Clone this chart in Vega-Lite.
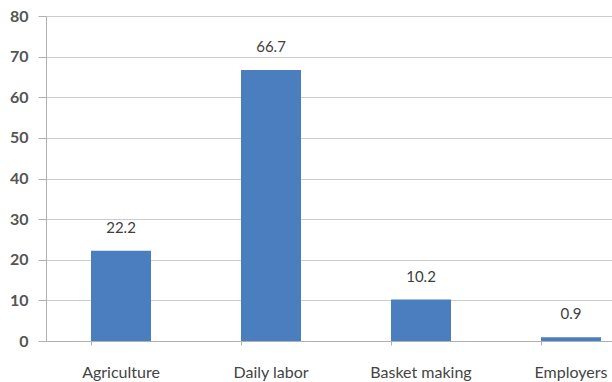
{
  "$schema": "https://vega.github.io/schema/vega-lite/v6.json",
  "width": 566,
  "height": 325,
  "autosize": "none",
  "padding": {"left": 46, "top": 16, "right": 0, "bottom": 41},
  "background": "white",
  "data": {"values": [
    {"category": "Agriculture", "value": 22.2},
    {"category": "Daily labor", "value": 66.7},
    {"category": "Basket making", "value": 10.2},
    {"category": "Employers", "value": 0.9}
  ]},
  "config": {
    "view": {"stroke": null},
    "font": "Lato"
  },
  "encoding": {
    "x": {
      "field": "category", "type": "nominal", "sort": null,
      "scale": {"range": [0, 600], "paddingInner": 0.6, "paddingOuter": 0.3},
      "axis": {
        "title": null, "labelAngle": 0, "bandPosition": 0,
        "domainColor": "#b0b0b0", "tickColor": "#b0b0b0", "tickSize": 4,
        "labelPadding": 19, "labelFontSize": 16, "labelColor": "#444444",
        "labelFont": "Lato", "grid": false, "labelOverlap": false
      }
    },
    "y": {
      "field": "value", "type": "quantitative",
      "scale": {"domain": [0, 80]},
      "axis": {
        "title": null, "values": [0, 10, 20, 30, 40, 50, 60, 70, 80],
        "labelOverlap": false,
        "domainColor": "#b0b0b0", "tickColor": "#b0b0b0", "tickSize": 8,
        "gridColor": "#cccccc", "labelPadding": 10, "labelFontSize": 16,
        "labelColor": "#555555", "labelFontWeight": "bold", "labelFont": "Lato"
      }
    }
  },
  "layer": [
    {"mark": {"type": "bar", "color": "#4a7ebf"}},
    {
      "mark": {"type": "text", "baseline": "bottom", "dy": -15, "fontSize": 15, "color": "#404040", "font": "Lato"},
      "encoding": {"text": {"field": "value", "type": "quantitative", "format": ".1f"}}
    }
  ]
}
